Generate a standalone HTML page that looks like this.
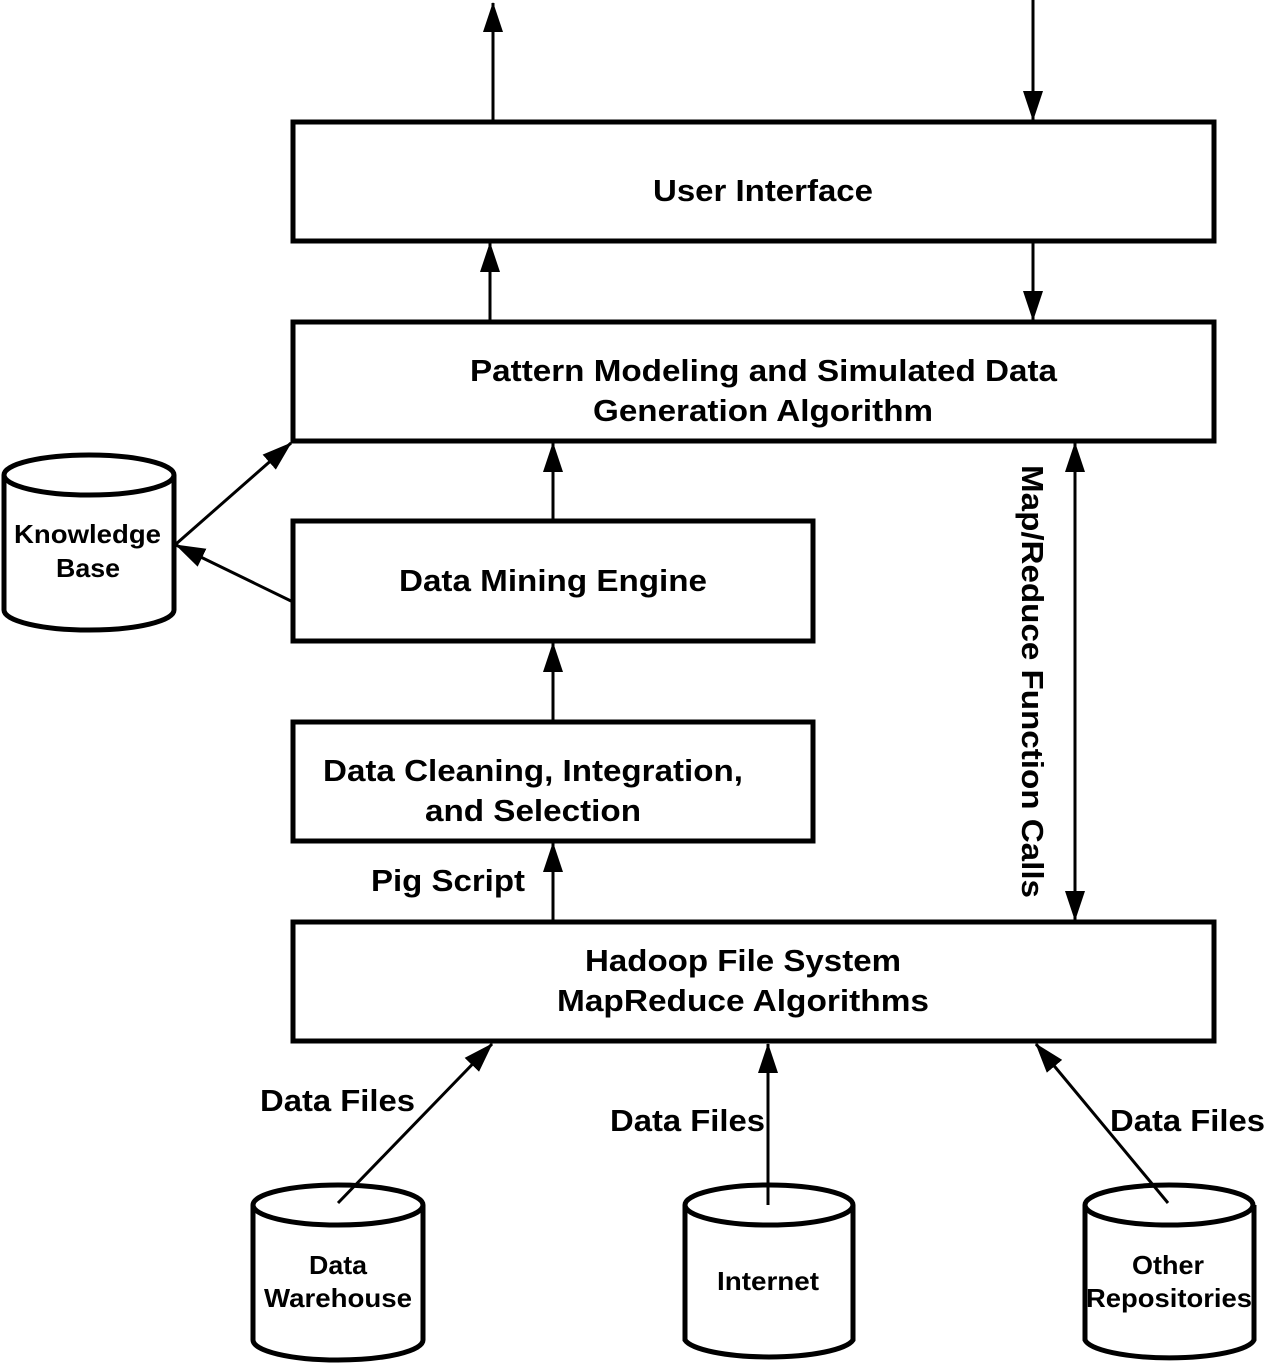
<!DOCTYPE html>
<html><head><style>body{margin:0;background:#fff}svg{display:block}text{font-family:"Liberation Sans",Arial,sans-serif;font-weight:bold;fill:#000}</style></head>
<body>
<svg width="1268" height="1366" viewBox="0 0 1268 1366" xmlns="http://www.w3.org/2000/svg">
<defs>
<marker id="b" viewBox="0 0 30 20" refX="29" refY="10" markerWidth="30" markerHeight="20" orient="auto-start-reverse" markerUnits="userSpaceOnUse"><path d="M0,0 L30,10 L0,20 z" fill="#000"/></marker></defs>
<g fill="#fff" stroke="#000" stroke-width="5">
<rect x="293" y="122" width="921" height="119"/>
<rect x="293" y="322" width="921" height="119"/>
<rect x="293" y="521" width="520" height="120"/>
<rect x="293" y="722" width="520" height="119"/>
<rect x="293" y="922" width="921" height="119"/>
</g>
<g fill="#fff" stroke="#000" stroke-width="5">
<path d="M4,475 V610 A85,20 0 0 0 174,610 V475"/><ellipse cx="89" cy="475" rx="85" ry="20"/>
<path d="M253,1205 V1340 A85,20 0 0 0 423,1340 V1205"/><ellipse cx="338" cy="1205" rx="85" ry="20"/>
<path d="M685,1205 V1340 A85,20 0 0 0 853,1340 V1205"/><ellipse cx="769" cy="1205" rx="84" ry="20"/>
<path d="M1085,1205 V1340 A85,20 0 0 0 1254,1340 V1205"/><ellipse cx="1169" cy="1205" rx="84" ry="20"/>
</g>
<g stroke="#000" stroke-width="3" fill="none" marker-end="url(#b)">
<line x1="493" y1="120" x2="493" y2="3"/>
<line x1="1033" y1="0" x2="1033" y2="120"/>
<line x1="490" y1="320" x2="490" y2="243"/>
<line x1="1033" y1="243" x2="1033" y2="320"/>
<line x1="553" y1="519" x2="553" y2="443"/>
<line x1="553" y1="720" x2="553" y2="643"/>
<line x1="553" y1="920" x2="553" y2="843"/>
<line x1="1075" y1="443" x2="1075" y2="920" marker-start="url(#b)"/>
<line x1="176" y1="544" x2="291" y2="443"/>
<line x1="291" y1="601" x2="176" y2="545"/>
<line x1="338" y1="1203" x2="492" y2="1044"/>
<line x1="768" y1="1205" x2="768" y2="1044"/>
<line x1="1168" y1="1203" x2="1036" y2="1044"/>
</g>
<g font-size="31" lengthAdjust="spacingAndGlyphs">
<text x="653" y="201" textLength="220" lengthAdjust="spacingAndGlyphs">User Interface</text>
<text x="470" y="381" textLength="587" lengthAdjust="spacingAndGlyphs">Pattern Modeling and Simulated Data</text>
<text x="593" y="421" textLength="340" lengthAdjust="spacingAndGlyphs">Generation Algorithm</text>
<text x="399" y="591" textLength="308" lengthAdjust="spacingAndGlyphs">Data Mining Engine</text>
<text x="323" y="781" textLength="420" lengthAdjust="spacingAndGlyphs">Data Cleaning, Integration,</text>
<text x="425" y="821" textLength="216" lengthAdjust="spacingAndGlyphs">and Selection</text>
<text x="585" y="971" textLength="316" lengthAdjust="spacingAndGlyphs">Hadoop File System</text>
<text x="557" y="1011" textLength="372" lengthAdjust="spacingAndGlyphs">MapReduce Algorithms</text>
<text x="371" y="891" textLength="154" lengthAdjust="spacingAndGlyphs">Pig Script</text>
<text x="260" y="1111" textLength="155" lengthAdjust="spacingAndGlyphs">Data Files</text>
<text x="610" y="1131" textLength="155" lengthAdjust="spacingAndGlyphs">Data Files</text>
<text x="1110" y="1131" textLength="155" lengthAdjust="spacingAndGlyphs">Data Files</text>
<text transform="translate(1022,465) rotate(90)" textLength="433" lengthAdjust="spacingAndGlyphs">Map/Reduce Function Calls</text>
</g>
<g font-size="26">
<text x="14" y="543" textLength="147" lengthAdjust="spacingAndGlyphs">Knowledge</text><text x="56" y="577" textLength="64" lengthAdjust="spacingAndGlyphs">Base</text>
<text x="309" y="1274" textLength="58" lengthAdjust="spacingAndGlyphs">Data</text><text x="264" y="1307" textLength="148" lengthAdjust="spacingAndGlyphs">Warehouse</text>
<text x="717" y="1290" textLength="102" lengthAdjust="spacingAndGlyphs">Internet</text>
<text x="1132" y="1274" textLength="72" lengthAdjust="spacingAndGlyphs">Other</text><text x="1086" y="1307" textLength="166" lengthAdjust="spacingAndGlyphs">Repositories</text>
</g>
</svg>
</body></html>
